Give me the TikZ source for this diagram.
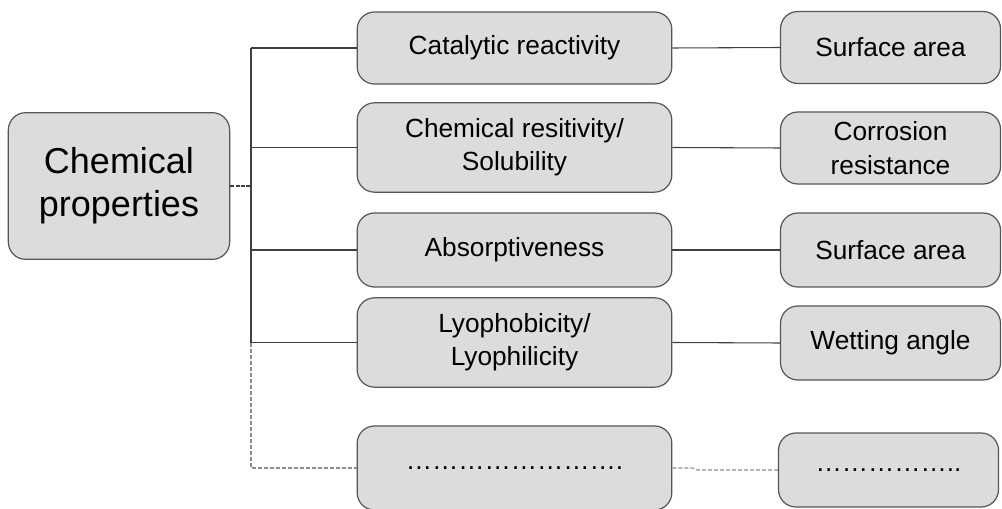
\documentclass[tikz,border=0pt]{standalone}
\usepackage{fontspec}
\setmainfont{Liberation Sans}
\usepackage{tikz}
\usetikzlibrary{positioning}
\definecolor{boxfill}{HTML}{DCDCDC}
\definecolor{boxline}{HTML}{555555}

\begin{document}
\begin{tikzpicture}[x=0.75pt,y=-0.75pt,
  box/.style={draw=boxline,fill=boxfill,line width=0.9pt,rounded corners=13pt,
    align=center,inner sep=2pt},
  midbox/.style={box,minimum width=236pt,font=\fontsize{19.7}{25}\selectfont},
  rightbox/.style={box,minimum width=165pt,minimum height=54pt,font=\fontsize{19.7}{25}\selectfont},
  link/.style={draw=black!75,line width=0.8pt},
  extra/.style={draw=black!45,line width=0.8pt,dashed,dash pattern=on 3pt off 1.5pt}]
\useasboundingbox (0,0) rectangle (1002,509);

\node[box,minimum width=166pt,minimum height=110pt,font=\fontsize{27}{32}\selectfont]
  (main) at (119,186) {Chemical\\properties};

\node[midbox,minimum height=54pt] (m1) at (514.5,48) {Catalytic reactivity};
\node[midbox,minimum height=67pt] (m2) at (514.5,147.5) {Chemical resitivity/\\Solubility};
\node[midbox,minimum height=55.5pt] (m3) at (514.5,250) {Absorptiveness};
\node[midbox,minimum height=67pt] (m4) at (514.5,342.5) {Lyophobicity/\\Lyophilicity};
\node[midbox,minimum height=63pt] (m5) at (514.5,468) {…………………….};

\node[rightbox] (r1) at (890.5,47.5) {Surface area};
\node[rightbox] (r2) at (890.5,148) {Corrosion\\resistance};
\node[rightbox,minimum height=55.5pt] (r3) at (890.5,250) {Surface area};
\node[rightbox,minimum height=55.5pt] (r4) at (890.5,343) {Wetting angle};
\node[rightbox,minimum height=55.5pt] (r5) at (888.5,470) {……………..};

\coordinate (trunk) at (251,0);

\draw[link,dashed,dash pattern=on 3pt off 1pt] (main.east) -- (main.east -| trunk);
\draw[link] (m1.west -| trunk) -- (m4.west -| trunk);
\draw[extra] (m4.west -| trunk) -- (m5.west -| trunk) -- (m5.west);
\foreach \i in {1,...,4}
  \draw[link] (m\i.west -| trunk) -- (m\i.west);
\foreach \i in {1,...,4}
  \draw[link] (m\i.east) -- (r\i.west);
\draw[extra] (m5.east) -- ++(20,0) -- ++(5,2) -- (r5.west);
\end{tikzpicture}
\end{document}
